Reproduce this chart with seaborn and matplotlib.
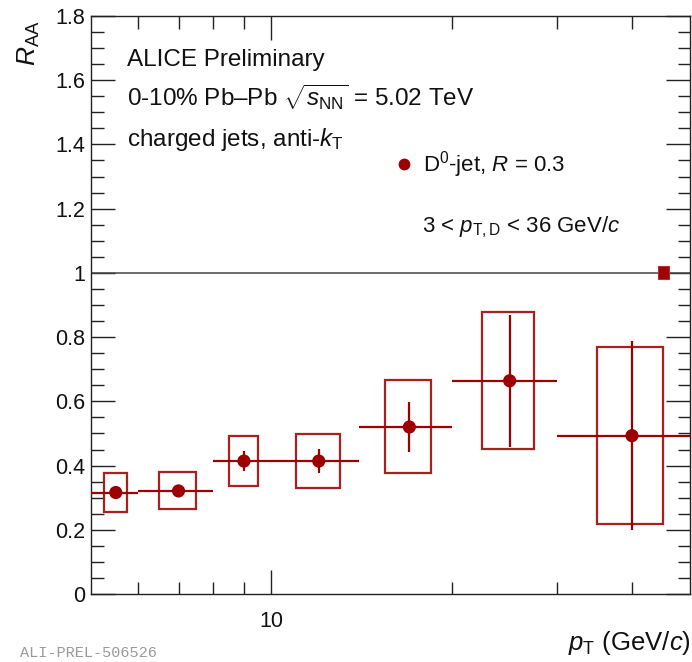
import numpy as np
import pandas as pd
import matplotlib
matplotlib.use("Agg")
import matplotlib.pyplot as plt
from matplotlib.patches import Rectangle
from matplotlib.lines import Line2D
from matplotlib.ticker import FixedLocator, NullFormatter, FuncFormatter, MultipleLocator
import seaborn as sns

# ---- data: D0-tagged jet R_AA, 0-10% Pb-Pb, R = 0.3 ----
bin_edges = [5, 6, 8, 10, 14, 20, 30, 50]
raa = [0.316, 0.321, 0.414, 0.414, 0.520, 0.664, 0.493]
stat_err = [0.012, 0.012, 0.030, 0.038, 0.077, 0.205, 0.295]
syst_lo = [0.060, 0.056, 0.079, 0.085, 0.144, 0.213, 0.275]
syst_hi = [0.060, 0.058, 0.078, 0.084, 0.147, 0.213, 0.277]
norm_unc = 0.02
norm_x = [44.2, 46.2]

edges = np.array(bin_edges, dtype=float)
centers = 0.5 * (edges[:-1] + edges[1:])
widths = np.diff(edges)
df = pd.DataFrame({"pt": centers, "raa": raa})

RED = "#9c0000"
BOX = "#a82020"

sns.set_theme(style="ticks")
plt.rcParams.update({
    "font.family": ["Liberation Sans", "DejaVu Sans"],
    "mathtext.fontset": "custom",
    "mathtext.rm": "Liberation Sans",
    "mathtext.it": "Liberation Sans:italic",
    "mathtext.bf": "Liberation Sans:bold",
    "axes.edgecolor": "#222222",
    "axes.linewidth": 1.0,
})

W, H = 692, 662
fig = plt.figure(figsize=(W / 100, H / 100), dpi=100)
ax = fig.add_axes([91 / W, 1 - 594 / H, (690 - 91) / W, (594 - 16) / H])

# reference line at unity
ax.axhline(1.0, color="#444444", lw=1.1, zorder=1)

# systematic uncertainty boxes (half the bin width)
for c, w, v, lo, hi in zip(centers, widths, raa, syst_lo, syst_hi):
    ax.add_patch(Rectangle((c - w / 4, v - lo), w / 2, lo + hi,
                           fill=False, ec=BOX, lw=1.6, zorder=2))

# bin widths and statistical errors
ax.errorbar(centers, raa, xerr=widths / 2, yerr=stat_err, fmt="none",
            ecolor=RED, elinewidth=1.6, capsize=0, zorder=3)

sns.scatterplot(data=df, x="pt", y="raa", ax=ax, color=RED, s=90,
                edgecolor="none", zorder=4, legend=False)

# global normalisation uncertainty
ax.add_patch(Rectangle((norm_x[0], 1 - norm_unc), norm_x[1] - norm_x[0],
                       2 * norm_unc, fc="#a00000", ec="#b03030", lw=0.8, zorder=5))

ax.set_xscale("log")
ax.set_xlim(5, 50)
ax.set_ylim(0, 1.8)
ax.xaxis.set_major_locator(FixedLocator([10]))
ax.xaxis.set_major_formatter(FuncFormatter(lambda v, p: "%g" % v))
ax.xaxis.set_minor_locator(FixedLocator([6, 7, 8, 9, 20, 30, 40]))
ax.xaxis.set_minor_formatter(NullFormatter())
ax.yaxis.set_major_locator(MultipleLocator(0.2))
ax.yaxis.set_minor_locator(MultipleLocator(0.05))
ax.yaxis.set_major_formatter(FuncFormatter(lambda v, p: "%g" % round(v, 2)))

ax.tick_params(which="both", direction="in", top=True, right=True,
               color="#222222", width=1.0, labelsize=15.5, labelcolor="#111111")
ax.tick_params(which="major", length=17)
ax.tick_params(which="minor", length=9)
ax.tick_params(axis="x", which="major", pad=12)
ax.tick_params(axis="y", which="major", pad=4)
ax.set_xlabel("")
ax.set_ylabel("")
for s in ax.spines.values():
    s.set_visible(True)

def fx(x):
    return x / W

def fy(y):
    return 1 - y / H

# axis titles
fig.text(fx(691), fy(650), r"$p_{\rm T}$ (GeV/$c$)", ha="right", va="baseline",
         fontsize=18.5, color="#111111")
fig.text(fx(16), fy(20), r"$R_{\rm AA}$", ha="left", va="top", rotation=90,
         fontsize=19, color="#111111")

# annotations
txt_kw = dict(ha="left", va="baseline", fontsize=17.5, color="#111111")
fig.text(fx(127), fy(66), "ALICE Preliminary", **txt_kw)
fig.text(fx(127), fy(106), r"0-10% Pb–Pb $\sqrt{s_{\rm NN}}$ = 5.02 TeV", **txt_kw)
fig.text(fx(127), fy(146), r"charged jets, anti-$k_{\rm T}$", **txt_kw)
fig.text(fx(422), fy(232), r"3 < $p_{\rm T,D}$ < 36 GeV/$c$",
         ha="left", va="baseline", fontsize=16, color="#111111")

handle = Line2D([], [], ls="none", marker="o", ms=8.5, color=RED, mec="none")
fig.legend([handle], [r"D$^{0}$-jet, $R$ = 0.3"], loc="center left",
           bbox_to_anchor=(fx(393), fy(165)), frameon=False, fontsize=16,
           handlelength=1.0, handletextpad=0.35, borderpad=0, borderaxespad=0,
           labelcolor="#111111")

fig.text(fx(20), fy(646), "ALI-PREL-506526", ha="left", va="top",
         family="Liberation Mono", fontsize=11, color="#9a9a9a")

fig.savefig("out.png", dpi=100)
